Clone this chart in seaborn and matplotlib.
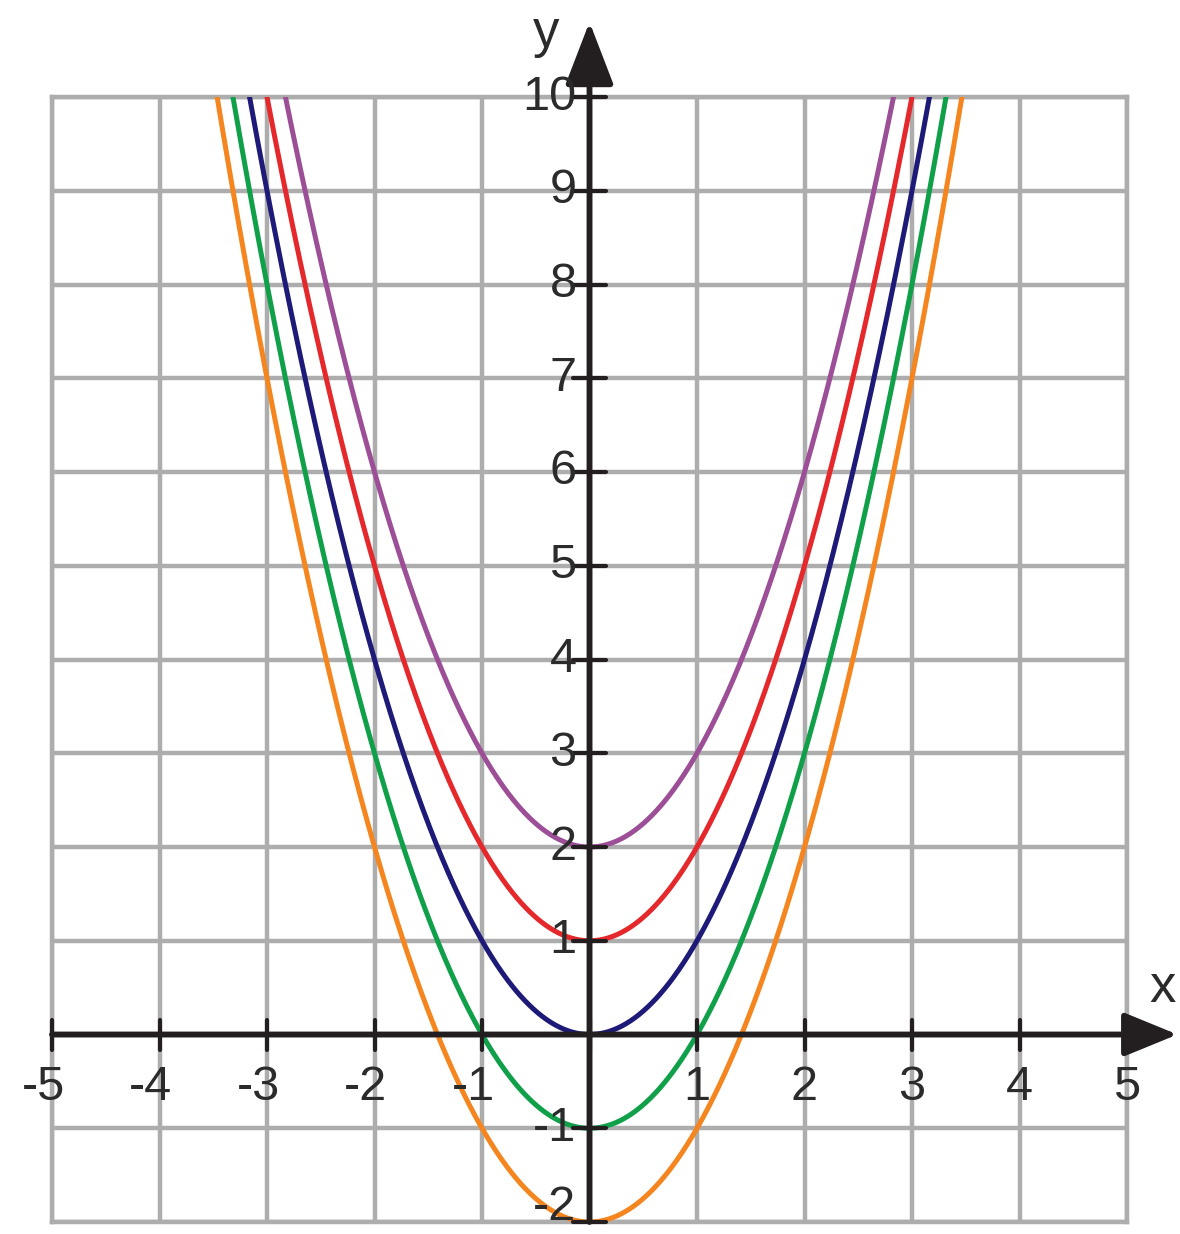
import numpy as np
import pandas as pd
import matplotlib
matplotlib.use("Agg")
import matplotlib.pyplot as plt
import seaborn as sns

# Family y = x^2 + c, one curve per vertical shift c
shifts = [2, 1, 0, -1, -2]
curve_colors = ["#9c4f97", "#e4282b", "#1d1a78", "#10a04a", "#f5861f"]
x_ticks = [-5, -4, -3, -2, -1, 1, 2, 3, 4, 5]
y_ticks = [10, 9, 8, 7, 6, 5, 4, 3, 2, 1, -1, -2]

xs = np.linspace(-3.6, 3.6, 721)
df = pd.concat(
    [pd.DataFrame({"x": xs, "y": xs ** 2 + c, "c": str(c)}) for c in shifts],
    ignore_index=True,
)

sns.set_theme(style="white")
plt.rcParams["font.family"] = ["Liberation Sans", "DejaVu Sans"]

W, H = 1180, 1234
fig = plt.figure(figsize=(W / 100, H / 100), dpi=100)
ax = fig.add_axes([52 / W, 1 - 1222 / H, (1127 - 52) / W, (1222 - 97) / H])

grid_col = "#adadad"
ax.set_xlim(-5, 5)
ax.set_ylim(-2, 10)
ax.set_xticks(range(-5, 6))
ax.set_yticks(range(-2, 11))
ax.tick_params(length=0, labelbottom=False, labelleft=False)
ax.grid(True, color=grid_col, lw=3.2)
for s in ax.spines.values():
    s.set_color(grid_col)
    s.set_linewidth(3.2)

sns.lineplot(data=df, x="x", y="y", hue="c", hue_order=[str(c) for c in shifts],
             palette=curve_colors, lw=3.6, legend=False, sort=False,
             estimator=None, ax=ax, zorder=3)
ax.set_xlabel("")
ax.set_ylabel("")

axis_col = "#231f20"
# coordinate axes with arrow heads
ax.annotate("", xy=(5.47, 0), xytext=(-5, 0), annotation_clip=False,
            arrowprops=dict(arrowstyle="-|>,head_length=1.1,head_width=0.45",
                            lw=4.2, color=axis_col, shrinkA=0, shrinkB=0,
                            mutation_scale=30), zorder=5)
ax.annotate("", xy=(0, 10.8), xytext=(0, -2), annotation_clip=False,
            arrowprops=dict(arrowstyle="-|>,head_length=1.3,head_width=0.5",
                            lw=4.2, color=axis_col, shrinkA=0, shrinkB=0,
                            mutation_scale=30), zorder=5)

# tick marks crossing the axes
for t in range(-5, 6):
    ax.plot([t, t], [-0.16, 0.16], color=axis_col, lw=3, clip_on=False, zorder=5)
for t in range(-2, 11):
    if t != 0:
        ax.plot([-0.15, 0.15], [t, t], color=axis_col, lw=3, clip_on=False, zorder=5)

txt_col = "#2b2b2b"
fs = 35
for t in x_ticks:
    ax.text(t + 0.12, -0.57, str(t), ha="right", va="center", fontsize=fs,
            color=txt_col, zorder=6)
for t in y_ticks:
    yy = -1.84 if t == -2 else t
    ax.text(-0.12, yy, str(t), ha="right", va="center", fontsize=fs,
            color=txt_col, zorder=6)

ax.text(5.33, 0.5, "x", ha="center", va="center", fontsize=38,
        color=txt_col, clip_on=False)
ax.text(-0.4, 10.68, "y", ha="center", va="center", fontsize=38,
        color=txt_col, clip_on=False)

fig.savefig("out.png", dpi=100, facecolor="white")
